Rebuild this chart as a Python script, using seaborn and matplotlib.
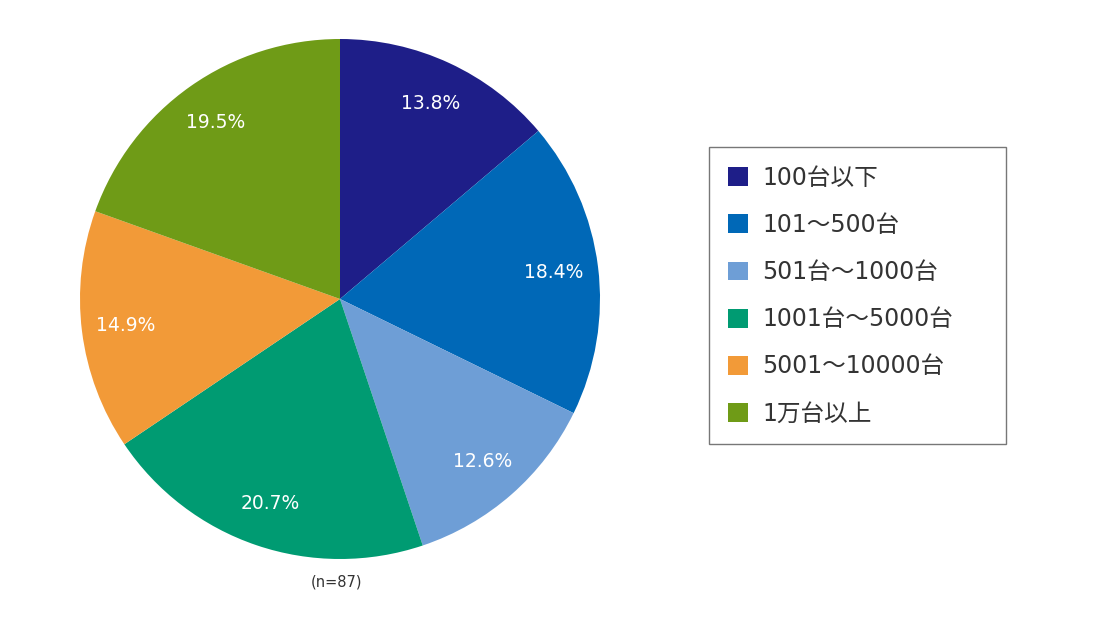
import matplotlib
matplotlib.use("Agg")
import matplotlib.pyplot as plt
import seaborn as sns
from matplotlib.patches import Patch

categories = ["100台以下", "101～500台", "501台～1000台", "1001台～5000台", "5001～10000台", "1万台以上"]
values = [13.8, 18.4, 12.6, 20.7, 14.9, 19.5]
colors = ["#1e1e88", "#0068b7", "#6e9ed6", "#009b72", "#f29a38", "#6f9b17"]
note = "(n=87)"

sns.set_theme(style="white")
plt.rcParams['font.family'] = ['DejaVu Sans', 'Noto Sans CJK JP']

fig = plt.figure(figsize=(11, 6.21), dpi=100)
ax = fig.add_axes([80/1100, 62/621, 520/1100, 520/621])
wedges, texts = ax.pie(values, colors=colors, startangle=90, counterclock=False,
                       labels=[f"{v:.1f}%" for v in values], labeldistance=0.83,
                       textprops=dict(color="white", fontsize=13.5),
                       wedgeprops=dict(linewidth=0))
for t in texts:
    t.set_ha("center")
    t.set_va("center")
ax.set_aspect("equal")
ax.set_xlim(-1, 1)
ax.set_ylim(-1, 1)
ax.axis("off")

fig.text(336/1100, 1 - 582/621, note, ha="center", va="center", fontsize=10.5, color="#333333")

handles = [Patch(facecolor=c, edgecolor="none", label=l) for c, l in zip(colors, categories)]
leg = fig.legend(handles=handles, loc="upper left",
                 bbox_to_anchor=(709/1100, 1 - 440/621, 297/1100, 293/621),
                 mode="expand",
                 frameon=True, fontsize=17, handlelength=0.85, handleheight=0.85,
                 handletextpad=0.6, labelspacing=0.98, borderpad=0.8, borderaxespad=0,
                 fancybox=False, edgecolor="#555555", labelcolor="#333333")
leg.get_frame().set_linewidth(1.0)

fig.savefig("out.png", dpi=100)
